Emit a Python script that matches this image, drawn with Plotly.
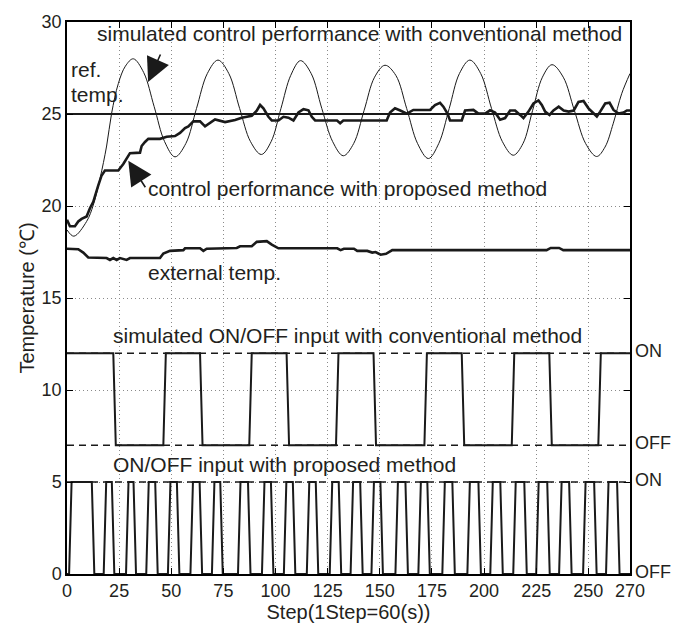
import plotly.graph_objects as go

# ---------------- data ----------------
x_ticks = [0, 25, 50, 75, 100, 125, 150, 175, 200, 225, 250, 270]
y_ticks = [0, 5, 10, 15, 20, 25, 30]

ref_temp = 25.0

# simulated control performance with conventional method (thin oscillating curve)
conv_x = [0, 3.3, 9.4, 12.6, 15.8, 19.0, 21.4, 24.6, 28.0, 31.8, 36.8, 41.8, 46.8, 51.8,
          57.0, 62.1, 67.3, 72.4, 77.6, 82.8, 88.0, 93.2, 97.9, 102.6, 107.3, 112.0,
          117.1, 122.2, 127.4, 132.5, 137.5, 142.5, 147.5, 152.5, 157.7, 162.9, 168.1,
          173.3, 178.3, 183.3, 188.2, 193.2, 198.4, 203.6, 208.8, 214.0, 218.7, 223.3,
          228.0, 232.6, 238.0, 243.3, 248.7, 254.0, 258.0, 262.0, 266.0, 270.0]
conv_y = [18.7, 18.36, 19.16, 20.05, 21.48, 23.26, 25.04, 26.65, 27.6, 28.0, 27.25, 25.4,
          23.5, 22.67, 23.4, 25.3, 27.2, 27.93, 27.2, 25.3, 23.5, 22.8, 23.5, 25.3, 27.1,
          27.9, 27.2, 25.3, 23.5, 22.73, 23.4, 25.2, 27.0, 27.65, 27.1, 25.3, 23.4, 22.58,
          23.4, 25.3, 27.2, 27.93, 27.2, 25.3, 23.5, 22.76, 23.4, 25.2, 27.0, 27.68, 27.0,
          25.2, 23.4, 22.69, 23.2, 24.5, 26.1, 27.2]

# control performance with proposed method (thick curve)
prop_x = [0, 1.4, 3.8, 5.4, 7.0, 9.4, 11.0, 12.6, 15.0, 16.6, 18.2, 24.6, 27.0, 28.6, 30.2,
          35.0, 35.8, 37.4, 39.0, 44.6, 47.8, 51.8, 54.2, 56.6, 58.2, 60.6, 63.8, 66.2,
          68.6, 71.0, 75.8, 80.6, 83.8, 88.6, 91.0, 92.6, 94.2, 96.6, 98.2, 101.4, 103.8,
          106.2, 108.6, 111.0, 113.4, 115.8, 117.4, 119.0, 129.5, 131.0, 132.5, 153.3,
          154.9, 157.3, 159.8, 163.0, 166.1, 174.1, 176.5, 178.9, 180.5, 182.4, 183.7,
          189.3, 190.9, 194.9, 197.3, 200.5, 202.9, 205.3, 207.7, 210.1, 212.5, 214.9,
          217.3, 218.9, 221.3, 223.7, 226.1, 227.7, 229.3, 231.4, 233.3, 235.8, 238.2,
          240.6, 243.0, 245.3, 247.7, 250.1, 252.5, 254.1, 255.7, 258.1, 260.2, 262.1,
          264.5, 266.9, 268.5, 270.0]
prop_y = [19.25, 18.9, 18.9, 19.16, 19.3, 19.43, 19.88, 20.23, 21.12, 21.66, 21.93, 21.93,
          22.28, 22.55, 22.87, 22.9, 23.26, 23.48, 23.65, 23.65, 23.76, 23.8, 23.97, 24.24,
          24.33, 24.6, 24.6, 24.33, 24.5, 24.7, 24.56, 24.67, 24.8, 24.9, 25.18, 25.49,
          25.31, 24.85, 24.65, 24.65, 24.85, 24.8, 24.65, 25.08, 25.26, 25.2, 24.85, 24.65,
          24.65, 24.5, 24.65, 24.65, 25.08, 25.31, 25.19, 25.02, 25.22, 25.22, 25.49,
          25.61, 25.4, 25.04, 24.65, 24.65, 25.19, 25.22, 25.02, 25.02, 25.2, 25.08, 24.69,
          24.78, 25.19, 25.19, 24.95, 24.78, 25.13, 25.57, 25.74, 25.49, 25.13, 24.95,
          25.19, 25.4, 25.19, 25.13, 25.19, 25.66, 25.71, 25.31, 25.04, 24.86, 25.13,
          25.57, 25.61, 25.22, 25.02, 25.08, 25.19, 25.19]

# external temperature
ext_x = [0, 5.4, 7.8, 10.2, 19.0, 20.6, 22.2, 23.8, 25.4, 28.6, 30.2, 44.6, 46.2, 49.4,
         55.8, 56.6, 63.8, 65.4, 67.0, 81.4, 83.0, 88.6, 91.0, 95.8, 98.2, 101.4, 129.6,
         131.2, 132.8, 137.6, 139.2, 144.0, 146.4, 148.0, 150.4, 153.0, 156.0, 230.0,
         232.0, 236.0, 238.0, 270.0]
ext_y = [17.68, 17.65, 17.47, 17.2, 17.17, 17.07, 17.17, 17.07, 17.17, 17.07, 17.17, 17.17,
         17.42, 17.56, 17.6, 17.7, 17.7, 17.56, 17.68, 17.72, 17.81, 17.81, 18.05, 18.09,
         17.9, 17.7, 17.7, 17.6, 17.68, 17.68, 17.56, 17.56, 17.47, 17.5, 17.35, 17.4,
         17.6, 17.6, 17.72, 17.72, 17.6, 17.6]

# simulated ON/OFF input with conventional method (ON = 12, OFF = 7)
conv_on_level = 12
conv_off_level = 7
conv_fall_steps = [22.2, 63.8, 105.3, 147.0, 189.3, 231.3]
conv_rise_steps = [46.2, 87.4, 129.0, 171.4, 213.3, 254.8]

# ON/OFF input with proposed method (ON = 5, OFF = 0)
prop_on_level = 5
prop_off_level = 0
prop_rise_steps = [1.0, 17.6, 28.3, 38.0, 48.4, 59.2, 69.5, 82.0, 93.5, 104.0, 115.0,
                   126.0, 136.0, 146.0, 157.5, 168.5, 180.0, 192.0, 203.0, 214.0, 225.0,
                   236.0, 247.5, 258.5]
prop_fall_steps = [13.1, 22.7, 33.1, 43.5, 53.9, 64.8, 74.7, 88.0, 99.0, 109.5, 120.5,
                   131.5, 141.8, 151.5, 163.5, 174.0, 186.0, 198.5, 209.0, 220.5, 231.5,
                   242.0, 254.0, 265.0]

# ---------------- build step signals ----------------
RAMP = 1.2
cx, cy = [0], [conv_on_level]
for f, r in zip(conv_fall_steps, conv_rise_steps):
    cx += [f, f + RAMP, r, r + RAMP]
    cy += [conv_on_level, conv_off_level, conv_off_level, conv_on_level]
cx.append(270)
cy.append(conv_on_level)

px, py = [0], [prop_off_level]
for r, f in zip(prop_rise_steps, prop_fall_steps):
    px += [r, r + RAMP, f - RAMP, f]
    py += [prop_off_level, prop_on_level, prop_on_level, prop_off_level]
px.append(270)
py.append(prop_off_level)

FONT = "Liberation Sans, Arial, Helvetica, sans-serif"
INK = "#1a1a1a"
TXT = "#231f20"

fig = go.Figure()

# dashed ON/OFF reference levels
for lvl in [conv_on_level, conv_off_level, prop_on_level]:
    fig.add_trace(go.Scatter(x=[0, 270], y=[lvl, lvl], mode="lines",
                             line=dict(color=INK, width=1.6, dash="7px,5px"),
                             hoverinfo="skip", showlegend=False))

# reference temperature
fig.add_trace(go.Scatter(x=[0, 270], y=[ref_temp, ref_temp], mode="lines",
                         line=dict(color=INK, width=2), showlegend=False))
# conventional simulated performance
fig.add_trace(go.Scatter(x=conv_x, y=conv_y, mode="lines",
                         line=dict(color=INK, width=1, shape="spline", smoothing=1.0),
                         showlegend=False))
# proposed performance
fig.add_trace(go.Scatter(x=prop_x, y=prop_y, mode="lines",
                         line=dict(color=INK, width=2.6), showlegend=False))
# external temperature
fig.add_trace(go.Scatter(x=ext_x, y=ext_y, mode="lines",
                         line=dict(color=INK, width=2.6), showlegend=False))
# ON/OFF inputs
fig.add_trace(go.Scatter(x=cx, y=cy, mode="lines",
                         line=dict(color=INK, width=2), showlegend=False))
fig.add_trace(go.Scatter(x=px, y=py, mode="lines",
                         line=dict(color=INK, width=2), showlegend=False))

ann_font = dict(family=FONT, size=21, color=TXT)
texts = [
    ("simulated control performance with conventional method", 14.0, 29.35),
    ("ref.", 1.4, 27.42),
    ("temp.", 1.4, 26.08),
    ("control performance with proposed method", 38.4, 20.95),
    ("external temp.", 38.5, 16.4),
    ("simulated ON/OFF input with conventional method", 21.4, 12.98),
    ("ON/OFF input with proposed method", 21.4, 5.93),
]
for t, x, y in texts:
    fig.add_annotation(x=x, y=y, text=t, showarrow=False, xanchor="left",
                       yanchor="middle", font=ann_font, borderpad=0)

# ON / OFF labels on the right side
for t, y in [("ON", conv_on_level), ("OFF", conv_off_level),
             ("ON", prop_on_level), ("OFF", prop_off_level)]:
    fig.add_annotation(x=1, xref="paper", y=y, yref="y", text=t, showarrow=False,
                       xanchor="left", yanchor="middle", xshift=4, yshift=2, borderpad=0,
                       font=dict(family=FONT, size=18, color=TXT))

# arrows
fig.add_annotation(x=38.9, y=26.74, ax=13, ay=-29, text="", showarrow=True,
                   arrowhead=2, arrowsize=3.0, arrowwidth=1.6, arrowcolor=INK)
fig.add_annotation(x=29.4, y=22.46, ax=18, ay=28, text="", showarrow=True,
                   arrowhead=2, arrowsize=3.0, arrowwidth=1.6, arrowcolor=INK)

axis_common = dict(showline=True, linecolor="black", linewidth=1.5, mirror="ticks",
                   ticks="inside", ticklen=6, tickwidth=1, tickcolor="black",
                   showgrid=True, gridcolor="#8a8a8a", gridwidth=1, griddash="1px,3px",
                   zeroline=False, tickfont=dict(family=FONT, size=18, color=TXT))

fig.update_xaxes(range=[0, 270], tickvals=x_ticks, ticktext=[str(v) for v in x_ticks],
                 title=dict(text="Step(1Step=60(s))", font=dict(family=FONT, size=20, color=TXT),
                            standoff=4),
                 **axis_common)
fig.update_yaxes(range=[0, 30], tickvals=y_ticks,
                 title=dict(text="Temperature (℃)", font=dict(family=FONT, size=20, color=TXT),
                            standoff=2),
                 **axis_common)

fig.update_layout(width=684, height=631, margin=dict(l=67, r=54, t=14, b=56),
                  plot_bgcolor="white", paper_bgcolor="white", showlegend=False)

fig.write_html("out.html")
